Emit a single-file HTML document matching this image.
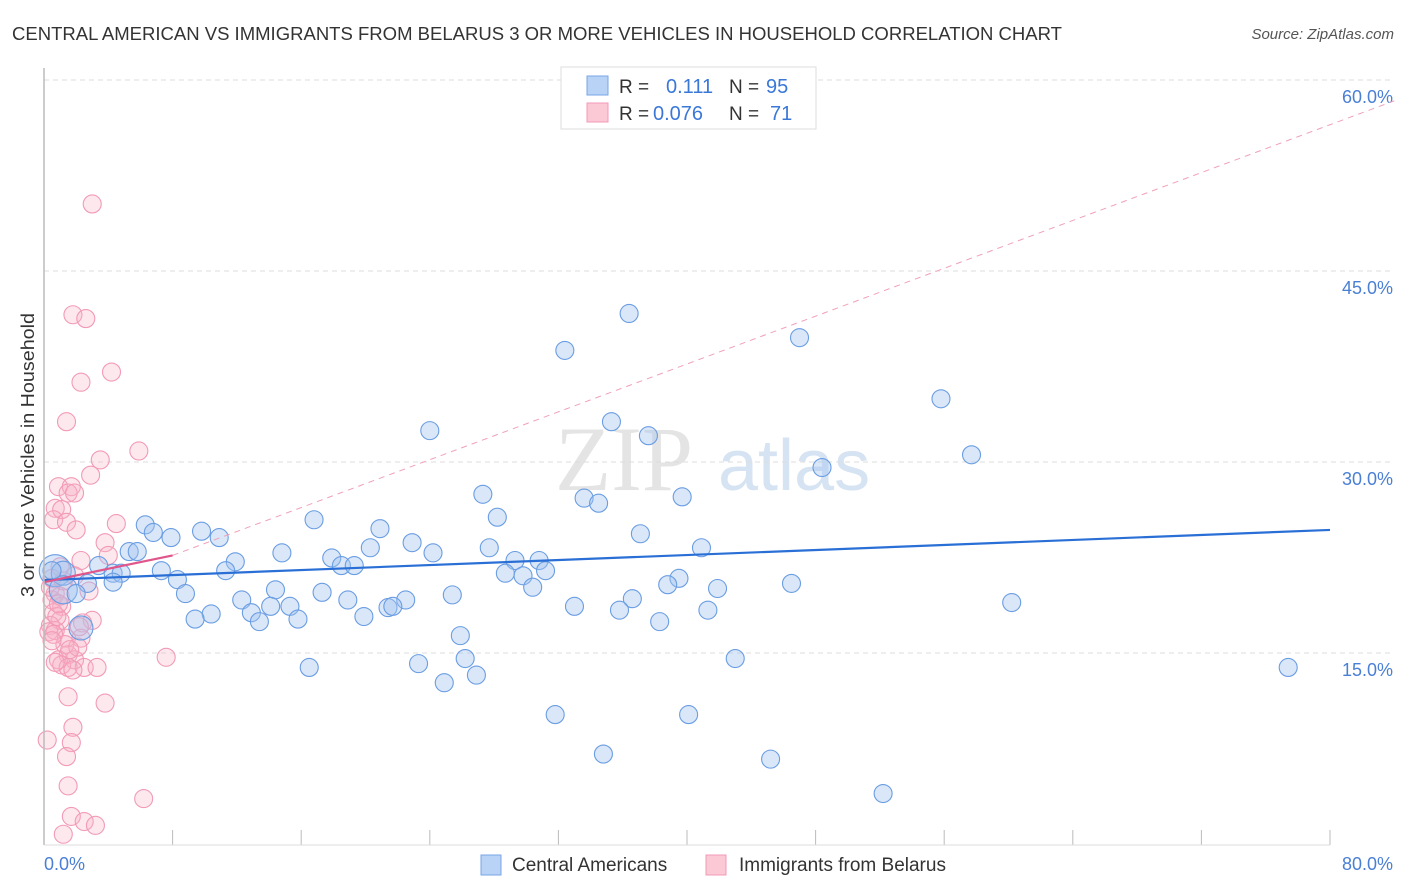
<!DOCTYPE html>
<html><head><meta charset="utf-8"><style>
body{margin:0;background:#fff;font-family:"Liberation Sans",sans-serif;}
#wrap{position:relative;width:1406px;height:892px;overflow:hidden;}
</style></head><body>
<div id="wrap">
<svg id="svg" width="1406" height="892" xmlns="http://www.w3.org/2000/svg">
<text x="12" y="40" font-size="18" fill="#333" textLength="1050" lengthAdjust="spacingAndGlyphs">CENTRAL AMERICAN VS IMMIGRANTS FROM BELARUS 3 OR MORE VEHICLES IN HOUSEHOLD CORRELATION CHART</text>
<text x="1394" y="39" font-size="15" fill="#555" font-style="italic" text-anchor="end">Source: ZipAtlas.com</text>
<text x="555" y="490" font-size="92" fill="#e4e4e4" font-family="Liberation Serif,serif">ZIP</text>
<text x="718" y="490" font-size="72" fill="#d6e3f3">atlas</text>
<text transform="translate(34,455) rotate(-90)" font-size="18" fill="#333" text-anchor="middle" textLength="284" lengthAdjust="spacingAndGlyphs">3 or more Vehicles in Household</text>
<g id="grid"></g><g id="marks"></g><g id="lines"></g>
<line x1="44" y1="68" x2="44" y2="845" stroke="#bbb" stroke-width="1.5"/>
<line x1="44" y1="845" x2="1330" y2="845" stroke="#ddd" stroke-width="1"/>
<text x="44" y="870" font-size="18" fill="#4a7fd4">0.0%</text>
<text x="1393" y="870" font-size="18" fill="#4a7fd4" text-anchor="end">80.0%</text>
<g>
<rect x="561" y="67" width="255" height="62" fill="#fff" stroke="#ddd"/>
<rect x="587" y="76" width="21" height="19" fill="#b8d3f6" stroke="#7aa6e6"/>
<rect x="587" y="103" width="21" height="19" fill="#fbc8d6" stroke="#f09ab5"/>
<text x="619" y="93" font-size="19" fill="#333">R =</text>
<text x="666" y="93" font-size="20" fill="#3a78d8">0.111</text>
<text x="729" y="93" font-size="19" fill="#333">N =</text>
<text x="766" y="93" font-size="20" fill="#3a78d8">95</text>
<text x="619" y="120" font-size="19" fill="#333">R =</text>
<text x="653" y="120" font-size="20" fill="#3a78d8">0.076</text>
<text x="729" y="120" font-size="19" fill="#333">N =</text>
<text x="770" y="120" font-size="20" fill="#3a78d8">71</text>
</g>
<g>
<rect x="481" y="855" width="20" height="20" fill="#b8d3f6" stroke="#7aa6e6"/>
<text x="512" y="871" font-size="19" fill="#333">Central Americans</text>
<rect x="706" y="855" width="20" height="20" fill="#fbc8d6" stroke="#f09ab5"/>
<text x="739" y="871" font-size="19" fill="#333">Immigrants from Belarus</text>
</g>
</svg>
</div>
<script>
const yTicks=[15,30,45,60];
const yTickLabels=["15.0%","30.0%","45.0%","60.0%"];
const xTicks=[0,8,16,24,32,40,48,56,64,72,80];
const blueX=[43.5,36.4,47.0,32.4,55.8,24.0,35.3,37.6,57.7,48.4,27.3,33.6,34.5,39.7,28.2,16.8,6.3,6.8,7.9,9.8,10.9,20.9,37.1,22.9,5.3,5.8,3.4,4.3,4.8,0.7,1.2,2.7,4.3,7.3,8.3,8.8,11.9,11.3,14.8,17.9,18.5,19.3,20.3,24.2,27.7,29.3,30.8,31.2,28.7,29.8,30.4,40.9,39.5,38.8,41.9,46.5,14.4,17.3,25.4,12.3,14.1,15.3,18.9,22.5,21.4,21.7,36.6,33.0,35.8,41.3,60.2,10.4,12.9,9.4,13.4,15.8,19.9,38.3,2.3,25.9,16.5,23.3,26.2,26.9,24.9,43.0,77.4,31.8,40.1,34.8,45.2,52.2,1.2,0.5,2.0];
const blueY=[59.5,43.0,41.1,40.1,36.3,33.8,34.5,33.4,31.9,30.9,28.8,28.5,28.1,28.6,27.0,26.8,26.4,25.8,25.4,25.9,25.4,26.1,25.7,25.0,24.3,24.3,23.2,22.6,22.6,22.8,22.6,21.8,21.9,22.8,22.1,21.0,23.5,22.8,24.2,23.8,23.2,23.2,24.6,24.2,24.6,23.6,23.6,22.8,22.6,22.4,21.5,24.6,22.2,21.7,21.4,21.8,21.3,21.1,20.9,20.5,20.0,20.0,20.5,20.5,19.9,20.0,20.6,20.0,19.7,19.7,20.3,19.4,19.5,19.0,18.8,19.0,19.2,18.8,18.3,17.7,15.2,15.5,15.9,14.6,14.0,15.9,15.2,11.5,11.5,8.4,8.0,5.3,21.3,22.8,21.0];
const blueR=[9,9,9,9,9,9,9,9,9,9,9,9,9,9,9,9,9,9,9,9,9,9,9,9,9,9,9,9,9,16,12,9,9,9,9,9,9,9,9,9,9,9,9,9,9,9,9,9,9,9,9,9,9,9,9,9,9,9,9,9,9,9,9,9,9,9,9,9,9,9,9,9,9,9,9,9,9,9,12,9,9,9,9,9,9,9,9,9,9,9,9,9,14,9,9];
const pinkX=[3.0,1.8,2.6,4.2,2.3,1.4,5.9,3.5,2.9,0.9,1.7,1.5,1.9,0.7,1.1,0.6,1.4,4.5,2.0,3.8,4.0,2.3,1.0,0.5,1.9,0.7,0.5,1.1,0.6,1.0,3.0,2.4,0.4,0.7,1.4,2.3,1.5,1.9,0.9,1.1,1.5,2.5,3.3,0.7,7.6,1.8,1.5,3.8,1.8,0.2,1.7,1.4,1.5,6.2,1.7,2.5,3.2,1.2,0.3,0.8,1.3,2.1,0.4,1.0,1.6,2.2,0.6,1.2,0.9,0.5,2.8];
const pinkY=[51.6,42.9,42.6,38.4,37.6,34.5,32.2,31.5,30.3,29.4,29.4,28.9,28.9,27.7,27.6,26.8,26.6,26.5,26.0,25.0,24.0,23.6,23.1,22.2,22.4,21.0,20.5,20.0,19.5,18.9,18.9,18.7,18.5,18.1,17.5,17.5,16.2,15.8,15.8,15.4,15.2,15.2,15.2,15.6,16.0,15.0,12.9,12.4,10.5,9.5,9.3,8.2,5.9,4.9,3.5,3.1,2.8,2.1,18.0,19.2,17.0,16.8,21.5,20.8,16.6,18.4,17.8,22.0,20.2,17.3,21.2];
const blueLine=[22.06,26.0];   // value at x=0 and x=80
const pinkLine=[21.9,24.0];    // value at x=0 and x=8
const pinkDash=[24.0,59.7];    // value at x=8 and x=84
function X(v){return 44+v/80*1286;}
function Y(v){return 861-v/15*191;}
const NS="http://www.w3.org/2000/svg";
function mk(tag,attrs,parent){const e=document.createElementNS(NS,tag);for(const k in attrs)e.setAttribute(k,attrs[k]);parent.appendChild(e);return e;}
const grid=document.getElementById('grid'),marks=document.getElementById('marks'),lines=document.getElementById('lines');
yTicks.forEach((t,i)=>{
 const l=mk('line',{x1:44,x2:1392,y1:Y(t)-17,y2:Y(t)-17,stroke:'#ddd','stroke-dasharray':'5,4'},grid);
 
 
 const tx=mk('text',{x:1393,y:Y(t)+6,'font-size':18,fill:'#4a7fd4','text-anchor':'end'},grid);
 tx.textContent=yTickLabels[i];
 
 
});
{const l=mk('line',{x1:44,x2:1392,y1:80,y2:80,stroke:'#ddd','stroke-dasharray':'5,4'},grid);
 
 }
xTicks.forEach(t=>{
 const l=mk('line',{x1:X(t),x2:X(t),y1:830,y2:845,stroke:'#bbb'},grid);
 
 
});
pinkX.forEach((v,i)=>{
 const c=mk('circle',{cx:X(v),cy:Y(pinkY[i]),r:9,fill:'rgba(248,180,200,0.3)',stroke:'#f29ab6','stroke-width':1.1},marks);
 
 
});
blueX.forEach((v,i)=>{
 const c=mk('circle',{cx:X(v),cy:Y(blueY[i]),r:blueR[i],fill:'rgba(160,196,240,0.4)',stroke:'#6a9de2','stroke-width':1.1},marks);
 
 
});
const d=mk('line',{x1:X(8),y1:Y(pinkDash[0]),x2:X(84),y2:Y(pinkDash[1]),stroke:'#f0a0b8','stroke-width':1,'stroke-dasharray':'6,5'},lines);


const b=mk('line',{x1:X(0),y1:Y(blueLine[0]),x2:X(80),y2:Y(blueLine[1]),stroke:'#2a6fd6','stroke-width':2.2},lines);


const p=mk('line',{x1:X(0),y1:Y(pinkLine[0]),x2:X(8),y2:Y(pinkLine[1]),stroke:'#e0558a','stroke-width':2.2},lines);


</script>
</body></html>
